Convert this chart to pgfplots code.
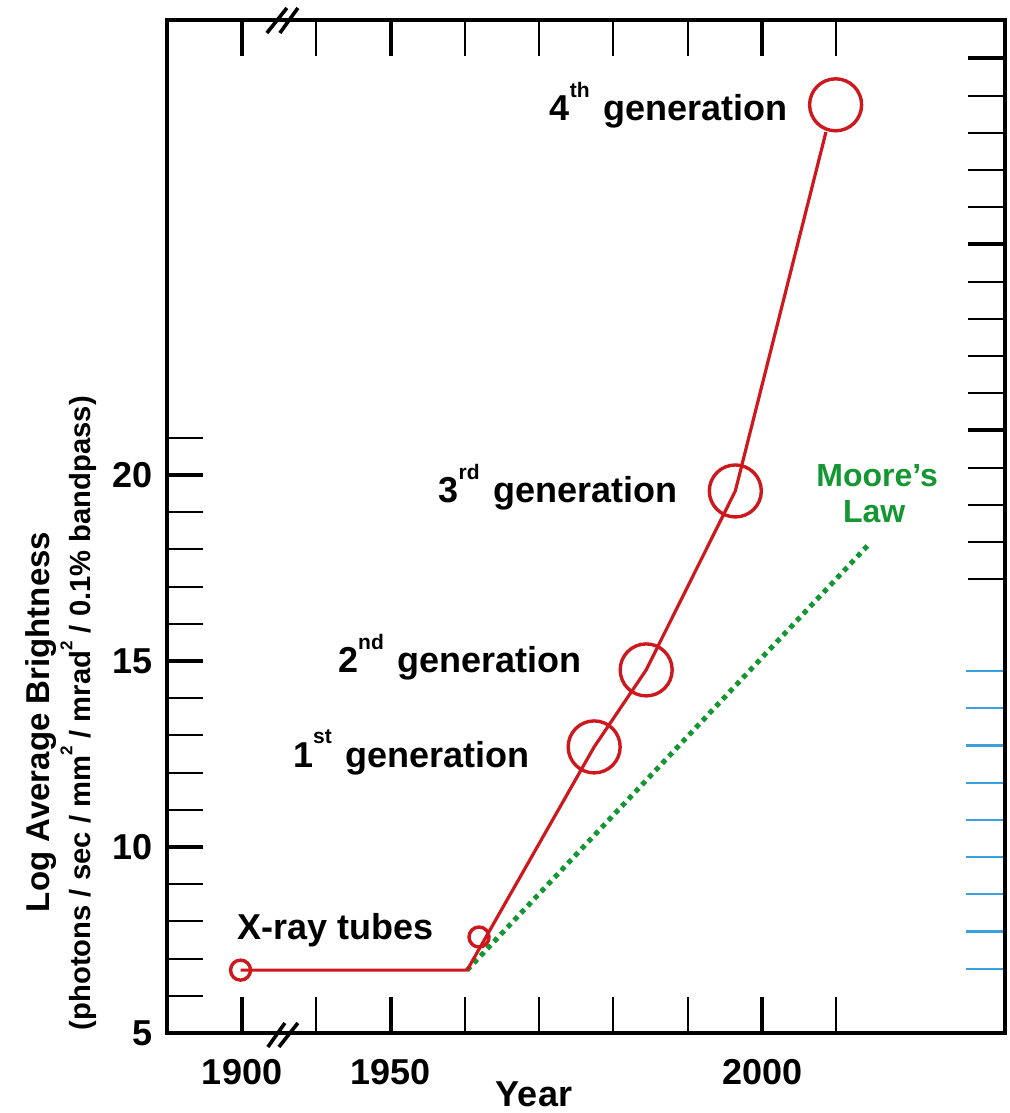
\documentclass[border=0pt]{standalone}
\usepackage{pgfplots}
\pgfplotsset{compat=1.18}
\usepackage{fontspec}
\setmainfont{Liberation Sans}
\definecolor{lred}{RGB}{205,25,30}
\definecolor{lgreen}{RGB}{20,150,50}
\definecolor{lblue}{RGB}{60,160,220}
\newcommand\sups[2]{\raisebox{0.64em}{\fontsize{#1}{#1}\selectfont #2}}
\newcommand\lbl{\fontsize{18}{20}\selectfont\bfseries}
\begin{document}
\begin{tikzpicture}
% right black ticks
\begin{axis}[scale only axis, width=419pt, height=506.5pt,
  xmin=1919.9, xmax=2032.7, ymin=5, ymax=32.23,
  axis x line=none, axis y line*=right, y axis line style={draw=none},
  tick align=inside,
  ytick={21.2,26.2,31.2},
  minor ytick={17.2,18.2,19.2,20.2,22.2,23.2,24.2,25.2,27.2,28.2,29.2,30.2},
  yticklabels={}, yticklabel style={xshift=-80pt},
  major tick length=18.5pt, minor tick length=18.5pt,
  major tick style={line width=2pt,black},
  minor tick style={line width=1pt,black}]
\addplot[draw=none] coordinates {(1950,10)};
\end{axis}
% right blue ticks
\begin{axis}[scale only axis, width=419pt, height=506.5pt,
  xmin=1919.9, xmax=2032.7, ymin=5, ymax=32.23,
  axis x line=none, axis y line*=right, y axis line style={draw=none},
  tick align=inside,
  ytick={6.73,7.73,8.73,9.73,10.73,11.73,12.73,13.73,14.73},
  yticklabels={}, yticklabel style={xshift=-80pt},
  major tick length=19.5pt,
  major tick style={line width=1.1pt,lblue}]
\addplot[draw=none] coordinates {(1950,10)};
\end{axis}
% main axis
\begin{axis}[scale only axis, width=419pt, height=506.5pt,
  xmin=1919.9, xmax=2032.7, ymin=5, ymax=32.23,
  clip=false,
  axis line style={line width=2.3pt},
  tick align=inside,
  xtick={1930,1950,2000}, xticklabels={1900,1950,2000},
  minor xtick={1940,1960,1970,1980,1990,2010},
  ytick={5,10,15,20}, yticklabels={5,10,15,20},
  minor ytick={6,7,8,9,11,12,13,14,16,17,18,19,21},
  ytick pos=left,
  major tick length=18pt, minor tick length=18pt,
  major tick style={line width=2pt, black},
  minor tick style={line width=1pt, black},
  tick label style={font=\fontsize{18}{20}\selectfont\bfseries, inner sep=0pt},
  xticklabel style={anchor=base, yshift=-26pt},
  yticklabel style={anchor=east, xshift=-7pt},
]
\addplot[lgreen, line width=2.5pt, dash pattern=on 2.5pt off 2.4pt] coordinates {(1960.3,6.69) (2014.3,18.12)};
\addplot[lred, line width=1.6pt] coordinates {(1929.8,6.69) (1960.3,6.69) (1977.4,12.69) (1984.4,14.76) (1996.4,19.57) (2008.6,29.22)};
\addplot[only marks, mark=o, mark size=5pt, mark options={draw=lred, line width=1.7pt}] coordinates {(1929.8,6.69) (1961.9,7.58)};
\addplot[only marks, mark=o, mark size=13pt, mark options={draw=lred, line width=1.7pt}] coordinates {(1977.4,12.69) (1984.4,14.76) (1996.4,19.57) (2009.9,29.95)};

\node[anchor=base east, inner sep=0pt, font=\lbl] at (axis cs:2003.5,29.54) {4\sups{10.5}{th}\hspace{7pt}generation};
\node[anchor=base east, inner sep=0pt, font=\lbl] at (axis cs:1988.7,19.27) {3\sups{10.5}{rd}\hspace{7pt}generation};
\node[anchor=base east, inner sep=0pt, font=\lbl] at (axis cs:1975.8,14.70) {2\sups{10.5}{nd}\hspace{7pt}generation};
\node[anchor=base east, inner sep=0pt, font=\lbl] at (axis cs:1968.8,12.15) {1\sups{10.5}{st}\hspace{7pt}generation};
\node[anchor=base west, inner sep=0pt, font=\lbl] at (axis cs:1929.3,7.5) {X-ray tubes};
\node[anchor=base, inner sep=0pt, text=lgreen, font=\fontsize{16}{18}\selectfont\bfseries] at (axis cs:2015.5,19.68) {Moore’s};
\node[anchor=base, inner sep=0pt, text=lgreen, font=\fontsize{16}{18}\selectfont\bfseries] at (axis cs:2015.1,18.71) {Law};

\node[anchor=base, inner sep=0pt, font=\lbl] at ([yshift=-37pt]axis cs:1969.3,5) {Year};
\node[rotate=90, anchor=base, inner sep=0pt, font=\fontsize{16.5}{18}\selectfont\bfseries] at ([xshift=-58.5pt]axis cs:1919.9,13.36) {Log Average Brightness};
\node[rotate=90, anchor=base, inner sep=0pt, font=\fontsize{14.6}{16}\selectfont\bfseries] at ([xshift=-38pt]axis cs:1919.9,13.6) {(photons / sec / mm\sups{8.5}{2} / mrad\sups{8.5}{2} / 0.1\% bandpass)};

\draw[line width=1.8pt] ([shift={(-7.5pt,-7pt)}]axis cs:1935.5,5) -- ([shift={(1pt,5pt)}]axis cs:1935.5,5);
\draw[line width=1.8pt] ([shift={(-2pt,-7pt)}]axis cs:1935.5,5) -- ([shift={(7.5pt,5pt)}]axis cs:1935.5,5);
\draw[line width=1.8pt] ([shift={(-8pt,-6.5pt)}]axis cs:1935.5,32.23) -- ([shift={(2pt,6pt)}]axis cs:1935.5,32.23);
\draw[line width=1.8pt] ([shift={(-1.5pt,-6.5pt)}]axis cs:1935.5,32.23) -- ([shift={(7.5pt,6pt)}]axis cs:1935.5,32.23);

\coordinate (bl) at (rel axis cs:0,0);
\coordinate (tr) at (rel axis cs:1,1);
\end{axis}
\pgfresetboundingbox
\path ([shift={(-83.5pt,-40pt)}]bl) rectangle ([shift={(2.5pt,10pt)}]tr);
\end{tikzpicture}
\end{document}
